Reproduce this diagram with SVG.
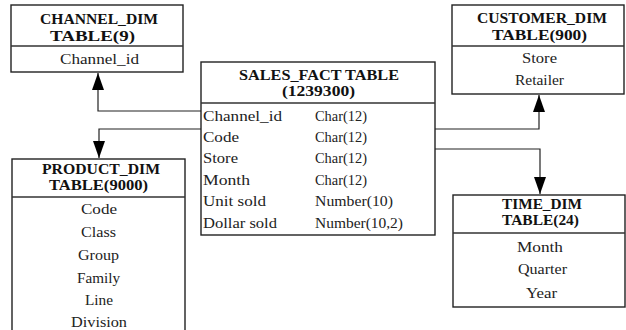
<svg xmlns="http://www.w3.org/2000/svg" width="626" height="330" viewBox="0 0 626 330">
<style>
.box{fill:#fff;stroke:#222;stroke-width:1.4}
.div{stroke:#333;stroke-width:1.4}
.h{font-family:"Liberation Serif","Times New Roman",serif;font-weight:bold;font-size:14.5px;fill:#111}
.t{font-family:"Liberation Serif","Times New Roman",serif;font-size:14px;fill:#222}
.c{fill:none;stroke:#222;stroke-width:1.2}
</style>
<defs>
<marker id="arr" markerUnits="userSpaceOnUse" markerWidth="18" markerHeight="13" refX="17" refY="6" orient="auto">
<path d="M0,0 L17,6 L0,12 z" fill="#000"/>
</marker>
</defs>
<g id="connectors">
<path class="c" d="M201,111 H98 V73" marker-end="url(#arr)"/>
<path class="c" d="M201,129 H99 V158" marker-end="url(#arr)"/>
<path class="c" d="M435,129 H539 V95" marker-end="url(#arr)"/>
<path class="c" d="M435,149 H540 V194" marker-end="url(#arr)"/>
</g>
<g id="channel_dim">
<rect class="box" x="11" y="5" width="172" height="67"/>
<line class="div" x1="11" y1="46" x2="183" y2="46"/>
<text class="h" x="40" y="24" textLength="118" lengthAdjust="spacingAndGlyphs">CHANNEL_DIM</text>
<text class="h" x="50" y="41" textLength="85" lengthAdjust="spacingAndGlyphs">TABLE(9)</text>
<text class="t" x="60" y="64" textLength="79" lengthAdjust="spacingAndGlyphs">Channel_id</text>
</g>
<g id="sales_fact">
<rect class="box" x="201" y="62" width="234" height="173"/>
<line class="div" x1="201" y1="103" x2="435" y2="103"/>
<text class="h" x="239" y="80" textLength="160" lengthAdjust="spacingAndGlyphs">SALES_FACT TABLE</text>
<text class="h" x="282" y="96" textLength="73" lengthAdjust="spacingAndGlyphs">(1239300)</text>
<text class="t" x="203" y="121" textLength="79" lengthAdjust="spacingAndGlyphs">Channel_id</text>
<text class="t" x="315" y="121" textLength="52" lengthAdjust="spacingAndGlyphs">Char(12)</text>
<text class="t" x="203" y="142" textLength="36" lengthAdjust="spacingAndGlyphs">Code</text>
<text class="t" x="315" y="142" textLength="52" lengthAdjust="spacingAndGlyphs">Char(12)</text>
<text class="t" x="203" y="163" textLength="35" lengthAdjust="spacingAndGlyphs">Store</text>
<text class="t" x="315" y="163" textLength="52" lengthAdjust="spacingAndGlyphs">Char(12)</text>
<text class="t" x="203" y="185" textLength="47" lengthAdjust="spacingAndGlyphs">Month</text>
<text class="t" x="315" y="185" textLength="52" lengthAdjust="spacingAndGlyphs">Char(12)</text>
<text class="t" x="203" y="206" textLength="63" lengthAdjust="spacingAndGlyphs">Unit sold</text>
<text class="t" x="315" y="206" textLength="78" lengthAdjust="spacingAndGlyphs">Number(10)</text>
<text class="t" x="203" y="228" textLength="74" lengthAdjust="spacingAndGlyphs">Dollar sold</text>
<text class="t" x="315" y="228" textLength="88" lengthAdjust="spacingAndGlyphs">Number(10,2)</text>
</g>
<g id="customer_dim">
<rect class="box" x="452" y="5" width="172" height="89"/>
<line class="div" x1="452" y1="46" x2="624" y2="46"/>
<text class="h" x="477" y="23" textLength="130" lengthAdjust="spacingAndGlyphs">CUSTOMER_DIM</text>
<text class="h" x="492" y="40" textLength="95" lengthAdjust="spacingAndGlyphs">TABLE(900)</text>
<text class="t" x="522" y="63" textLength="35" lengthAdjust="spacingAndGlyphs">Store</text>
<text class="t" x="515" y="85" textLength="49" lengthAdjust="spacingAndGlyphs">Retailer</text>
</g>
<g id="product_dim">
<rect class="box" x="12" y="159" width="173" height="190"/>
<line class="div" x1="12" y1="197" x2="185" y2="197"/>
<text class="h" x="42" y="174" textLength="118" lengthAdjust="spacingAndGlyphs">PRODUCT_DIM</text>
<text class="h" x="49" y="190" textLength="99" lengthAdjust="spacingAndGlyphs">TABLE(9000)</text>
<text class="t" x="81" y="214" textLength="36" lengthAdjust="spacingAndGlyphs">Code</text>
<text class="t" x="81" y="237" textLength="35" lengthAdjust="spacingAndGlyphs">Class</text>
<text class="t" x="78" y="260" textLength="41" lengthAdjust="spacingAndGlyphs">Group</text>
<text class="t" x="77" y="283" textLength="43" lengthAdjust="spacingAndGlyphs">Family</text>
<text class="t" x="85" y="305" textLength="28" lengthAdjust="spacingAndGlyphs">Line</text>
<text class="t" x="71" y="327" textLength="56" lengthAdjust="spacingAndGlyphs">Division</text>
</g>
<g id="time_dim">
<rect class="box" x="453" y="195" width="172" height="112"/>
<line class="div" x1="453" y1="233" x2="625" y2="233"/>
<text class="h" x="502" y="209" textLength="80" lengthAdjust="spacingAndGlyphs">TIME_DIM</text>
<text class="h" x="502" y="225" textLength="77" lengthAdjust="spacingAndGlyphs">TABLE(24)</text>
<text class="t" x="517" y="252" textLength="46" lengthAdjust="spacingAndGlyphs">Month</text>
<text class="t" x="518" y="274" textLength="49" lengthAdjust="spacingAndGlyphs">Quarter</text>
<text class="t" x="526" y="298" textLength="31" lengthAdjust="spacingAndGlyphs">Year</text>
</g>
</svg>
